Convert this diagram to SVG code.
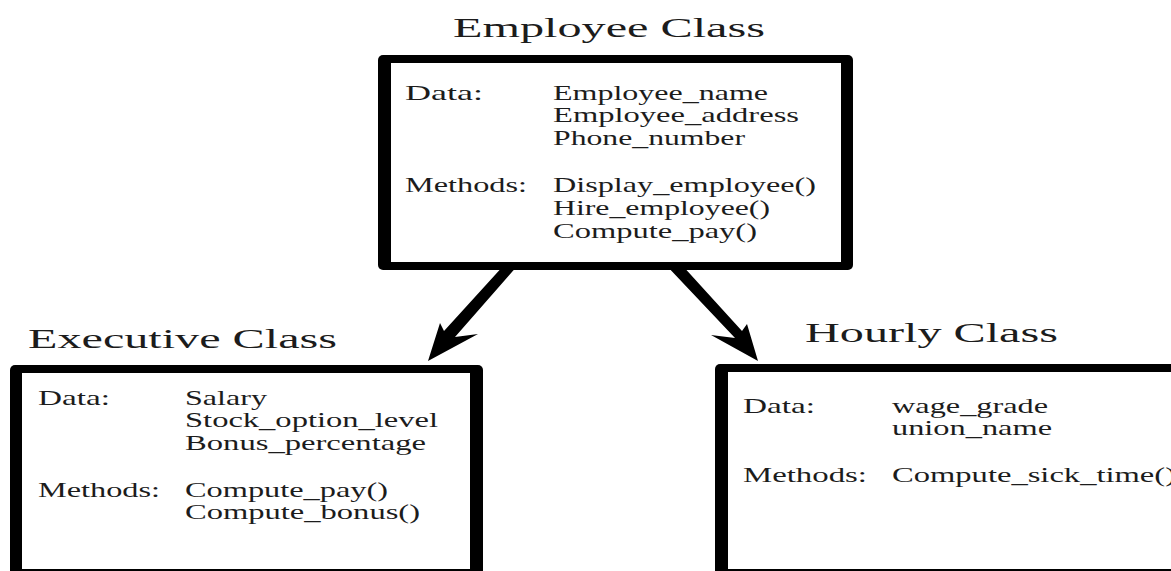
<svg xmlns="http://www.w3.org/2000/svg" width="1171" height="571" viewBox="0 0 1171 571">
  <style>
    .frame { fill: #000; }
    .inner { fill: #fff; }
    .title { font-family: "Liberation Serif", "Times New Roman", serif; font-size: 28px; fill: #1c1c1c; }
    .body { font-family: "Liberation Serif", "Times New Roman", serif; font-size: 21px; fill: #1c1c1c; }
    .arrow { fill: #000; }
  </style>
  <rect x="0" y="0" width="1171" height="571" fill="#fff"/>

  <!-- Base class -->
  <g id="employee">
    <text class="title" x="453" y="37" textLength="312" lengthAdjust="spacingAndGlyphs">Employee Class</text>
    <rect class="frame" x="378" y="55" width="475" height="215" rx="5"/>
    <rect class="inner" x="391" y="63" width="450" height="199"/>
    <text class="body" x="405" y="100" textLength="78" lengthAdjust="spacingAndGlyphs">Data:</text>
    <text class="body" x="553" y="100" textLength="215" lengthAdjust="spacingAndGlyphs">Employee_name</text>
    <text class="body" x="553" y="122" textLength="246" lengthAdjust="spacingAndGlyphs">Employee_address</text>
    <text class="body" x="553" y="145" textLength="192" lengthAdjust="spacingAndGlyphs">Phone_number</text>
    <text class="body" x="405" y="192" textLength="122" lengthAdjust="spacingAndGlyphs">Methods:</text>
    <text class="body" x="553" y="192" textLength="263" lengthAdjust="spacingAndGlyphs">Display_employee()</text>
    <text class="body" x="553" y="215" textLength="217" lengthAdjust="spacingAndGlyphs">Hire_employee()</text>
    <text class="body" x="553" y="238" textLength="204" lengthAdjust="spacingAndGlyphs">Compute_pay()</text>
  </g>

  <!-- Derived class: executive -->
  <g id="executive">
    <text class="title" x="28" y="348" textLength="309" lengthAdjust="spacingAndGlyphs">Executive Class</text>
    <rect class="frame" x="10" y="365" width="473" height="215" rx="5"/>
    <rect class="inner" x="22" y="373" width="448" height="196"/>
    <text class="body" x="38" y="405" textLength="72" lengthAdjust="spacingAndGlyphs">Data:</text>
    <text class="body" x="185" y="405" textLength="82" lengthAdjust="spacingAndGlyphs">Salary</text>
    <text class="body" x="185" y="427" textLength="253" lengthAdjust="spacingAndGlyphs">Stock_option_level</text>
    <text class="body" x="185" y="450" textLength="241" lengthAdjust="spacingAndGlyphs">Bonus_percentage</text>
    <text class="body" x="38" y="497" textLength="122" lengthAdjust="spacingAndGlyphs">Methods:</text>
    <text class="body" x="185" y="497" textLength="203" lengthAdjust="spacingAndGlyphs">Compute_pay()</text>
    <text class="body" x="185" y="519" textLength="235" lengthAdjust="spacingAndGlyphs">Compute_bonus()</text>
  </g>

  <!-- Derived class: hourly -->
  <g id="hourly">
    <text class="title" x="805" y="342" textLength="253" lengthAdjust="spacingAndGlyphs">Hourly Class</text>
    <rect class="frame" x="715" y="364" width="480" height="216" rx="5"/>
    <rect class="inner" x="728" y="372" width="460" height="197"/>
    <text class="body" x="743" y="413" textLength="72" lengthAdjust="spacingAndGlyphs">Data:</text>
    <text class="body" x="892" y="413" textLength="156" lengthAdjust="spacingAndGlyphs">wage_grade</text>
    <text class="body" x="892" y="435" textLength="160" lengthAdjust="spacingAndGlyphs">union_name</text>
    <text class="body" x="743" y="482" textLength="124" lengthAdjust="spacingAndGlyphs">Methods:</text>
    <text class="body" x="892" y="482" textLength="284" lengthAdjust="spacingAndGlyphs">Compute_sick_time()</text>
  </g>

  <!-- Inheritance arrows -->
  <g id="connectors">
    <polygon class="arrow" points="505,264 519,264 455,337 478,334 428,361 440,323 444,331"/>
    <polygon class="arrow" points="665,264 681,264 742,331 747,324 758,361 711,335 735,338"/>
  </g>
</svg>
